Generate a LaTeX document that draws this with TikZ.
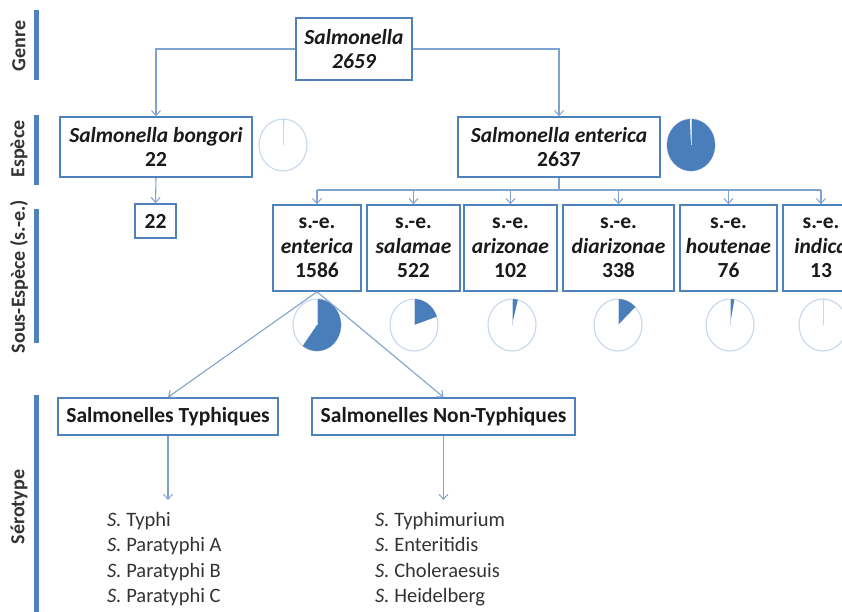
\documentclass[tikz,border=0pt]{standalone}
\usepackage{fontspec}
\setmainfont{Carlito}
\usetikzlibrary{arrows.meta}
\definecolor{boxblue}{HTML}{4F81BD}
\definecolor{lineblue}{HTML}{7FA3D0}
\definecolor{pieline}{HTML}{C8D8EC}
\definecolor{piefill}{HTML}{4A7EBB}
\definecolor{txt}{HTML}{1A1A1A}
\definecolor{lbl}{HTML}{333333}
\tikzset{
  box/.style={draw=boxblue, line width=1.6pt, fill=white, align=center, inner sep=1pt,
    font=\fontsize{21.5}{24.5}\selectfont\bfseries, text=txt},
  conn/.style={draw=lineblue, line width=1.1pt},
  arr/.style={conn, -{Straight Barb[length=5pt,width=9pt,line width=1pt]}},
  bar/.style={draw=boxblue, line width=5pt},
  lvl/.style={rotate=90, font=\fontsize{20}{22}\selectfont\bfseries, text=lbl},
  lst/.style={anchor=north west, align=left, inner sep=0pt, font=\fontsize{20.5}{25.3}\selectfont, text=lbl},
  pieo/.style={draw=pieline, line width=1.1pt, fill=white},
}
\newcommand{\piechart}[2]{% center, fraction
  \draw[pieo] (#1) ellipse[x radius=24pt, y radius=26pt];
  \fill[piefill] (#1) -- ++(90:24pt and 26pt) arc[start angle=90, end angle={90-360*#2}, x radius=24pt, y radius=26pt] -- cycle;
  \draw[draw=pieline, line width=0.9pt] (#1) -- ++(90:24pt and 26pt);
}
\begin{document}
\begin{tikzpicture}[x=1pt,y=-1pt]
\clip (0,0) rectangle (842,612);
\fill[white] (0,0) rectangle (842,612);

% level bars and labels
\draw[bar] (36,10) -- (36,80);
\draw[bar] (36,115) -- (36,185);
\draw[bar] (36,209) -- (36,343);
\draw[bar] (36,395) -- (36,612);
\node[lvl] (lg) at (19,46) {Genre};
\node[lvl] (le) at (19,149) {Espèce};
\node[lvl] (ls) at (19,276.5) {Sous-Espèce (s.-e.)};
\node[lvl] (lt) at (19,507) {Sérotype};

% boxes
\node[box, minimum width=116pt, minimum height=62pt] (genre) at (354,49) {\itshape Salmonella\\\itshape 2659};
\node[box, minimum width=192pt, minimum height=60pt] (bong) at (156,147) {\itshape Salmonella bongori\\22};
\node[box, minimum width=202pt, minimum height=60pt] (ent) at (559,147) {\itshape Salmonella enterica\\2637};
\node[box, minimum width=41pt, minimum height=34pt] (b22) at (155.5,221) {22};

\tikzset{sub/.style={box, minimum height=86pt, text depth=0pt}}
\node[sub, minimum width=88pt] (s1) at (317,248) {s.-e.\\\itshape enterica\\1586};
\node[sub, minimum width=93pt] (s2) at (413.5,248) {s.-e.\\\itshape salamae\\522};
\node[sub, minimum width=93pt] (s3) at (510.5,248) {s.-e.\\\itshape arizonae\\102};
\node[sub, minimum width=111pt] (s4) at (618.5,248) {s.-e.\\\itshape diarizonae\\338};
\node[sub, minimum width=97pt] (s5) at (728.5,248) {s.-e.\\\itshape houtenae\\76};
\node[sub, minimum width=76pt] (s6) at (821,248) {s.-e.\\\itshape indica\\13};

\node[box, minimum width=220pt, minimum height=37pt] (typ) at (168,416.5) {Salmonelles Typhiques};
\node[box, minimum width=263pt, minimum height=37pt] (ntyp) at (443.5,416.5) {Salmonelles Non-Typhiques};

% pies
\coordinate (pb) at (283,145);
\coordinate (pe) at (691,145);
\piechart{pb}{0.0083}
\piechart{pe}{0.9917}
\coordinate (p1) at (317,325);
\coordinate (p2) at (414,325);
\coordinate (p3) at (512,325);
\coordinate (p4) at (618,325);
\coordinate (p5) at (730,325);
\coordinate (p6) at (823,325);
\piechart{p1}{0.6014}
\piechart{p2}{0.1980}
\piechart{p3}{0.0387}
\piechart{p4}{0.1282}
\piechart{p5}{0.0288}
\piechart{p6}{0.0049}

% connectors
\draw[arr] (genre.west) -| (bong.north);
\draw[arr] (genre.east) -| (ent.north);
\draw[arr] (bong.south) -- (b22.north);
\coordinate (bus) at (559,190);
\draw[conn] (ent.south) -- (bus);
\draw[conn] (s1.north |- bus) -- (s6.north |- bus);
\foreach \s in {s1,s2,s3,s4,s5,s6} \draw[arr] (\s.north |- bus) -- (\s.north);
\draw[arr] (s1.south) -- (typ.north);
\draw[arr] (s1.south) -- (ntyp.north);
\coordinate (lt1) at (168,500);
\coordinate (lt2) at (443.5,500);
\draw[arr] (typ.south) -- (lt1);
\draw[arr] (ntyp.south) -- (lt2);

% serotype lists
\node[lst] (list1) at (107,512) {\textit{S.} Typhi\\\textit{S.} Paratyphi A\\\textit{S.} Paratyphi B\\\textit{S.} Paratyphi C};
\node[lst] (list2) at (375,512) {\textit{S.} Typhimurium\\\textit{S.} Enteritidis\\\textit{S.} Choleraesuis\\\textit{S.} Heidelberg};
\end{tikzpicture}
\end{document}
